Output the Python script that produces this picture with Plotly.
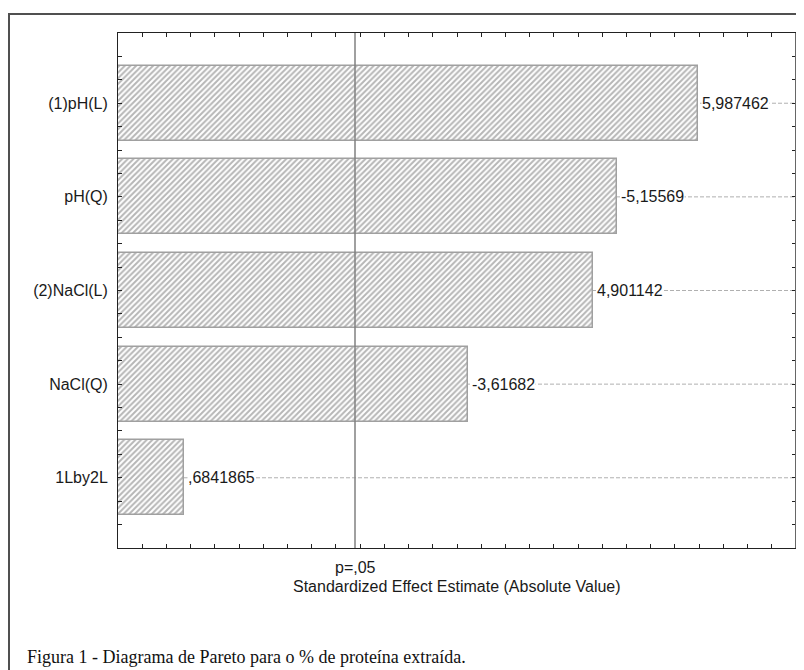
import plotly.graph_objects as go

# ---- data ----
factors = ["(1)pH(L)", "pH(Q)", "(2)NaCl(L)", "NaCl(Q)", "1Lby2L"]
effects = [5.987462, -5.15569, 4.901142, -3.61682, 0.6841865]   # signed standardized effects
p_critical = 2.446912           # t critical value for p = .05
p_label = "p=,05"
x_title = "Standardized Effect Estimate (Absolute Value)"
caption = "Figura 1 - Diagrama de Pareto para o % de proteína extraída."

abs_eff = [abs(v) for v in effects]
idx = list(range(len(factors)))


def fmt(v):
    s = "%.7g" % v
    if s.startswith("0."):
        s = s[1:]
    elif s.startswith("-0."):
        s = "-" + s[2:]
    return s.replace(".", ",")


value_text = [fmt(v) for v in effects]

# ---- geometry (pixels, figure sits 8px into the page because of body margin) ----
OFF = 8
W, H = 804 - OFF, 670 - OFF
L, T = 118 - OFF, 33 - OFF
R = W - (796 - OFF)
B = H - (548 - OFF)
pw, ph = W - L - R, H - T - B

FONT = "Liberation Sans, Arial, sans-serif"

# y ticks every quarter category, label only at category centres
ymin, ymax = -0.75, len(factors) - 1 + 0.75
n_q = int(round((ymax - ymin) / 0.25))
ytickvals = [ymin + 0.25 * k for k in range(n_q + 1)]
yticktext = []
for v in ytickvals:
    if abs(v - round(v)) < 1e-9 and 0 <= round(v) < len(factors):
        yticktext.append(factors[int(round(v))])
    else:
        yticktext.append("")

fig = go.Figure()
fig.add_trace(go.Bar(
    x=abs_eff, y=idx, orientation="h", width=0.8,
    marker=dict(color="white",
                line=dict(color="#a0a0a0", width=1.5),
                pattern=dict(shape="/", fgcolor="#6e6e6e", bgcolor="white",
                             size=4, solidity=0.5)),
    hoverinfo="skip", showlegend=False,
))

shapes = []
# dashed reference lines at each bar
for i in idx:
    shapes.append(dict(type="line", xref="x", yref="y", x0=0, x1=7, y0=i, y1=i,
                       line=dict(color="#b0b0b0", width=1, dash="4px,2px"), layer="below"))
# p = .05 line
shapes.append(dict(type="line", xref="x", yref="y domain", x0=p_critical, x1=p_critical,
                   y0=0, y1=1, line=dict(color="#808080", width=1.5), layer="above"))
# right spine (thicker, grey)
shapes.append(dict(type="line", xref="paper", yref="paper", x0=1, x1=1, y0=0, y1=1,
                   line=dict(color="#666666", width=2), layer="above"))
# outer figure frame
shapes.append(dict(type="rect", xref="paper", yref="paper",
                   x0=(9 - OFF - L) / pw, x1=(812 - OFF - L) / pw,
                   y0=-(H + 10 - T - ph) / ph, y1=1 + (T - (14 - OFF)) / ph,
                   line=dict(color="#505050", width=2), fillcolor="rgba(0,0,0,0)",
                   layer="above"))

annotations = []
for i in idx:
    annotations.append(dict(x=abs_eff[i], y=i, xref="x", yref="y", text=value_text[i],
                            xanchor="left", yanchor="middle", xshift=3, showarrow=False,
                            bgcolor="white", borderpad=0,
                            font=dict(family=FONT, size=16, color="#1a1a1a")))
annotations.append(dict(x=p_critical, y=0, xref="x", yref="paper", text=p_label,
                        xanchor="center", yanchor="middle", yshift=-19, showarrow=False,
                        font=dict(family=FONT, size=16, color="#1a1a1a")))
annotations.append(dict(x=0.5, y=0, xref="paper", yref="paper", text=x_title,
                        xanchor="center", yanchor="middle", yshift=-38, showarrow=False,
                        font=dict(family=FONT, size=16, color="#1a1a1a")))
annotations.append(dict(x=(25 - OFF - L) / pw, y=0, xref="paper", yref="paper", text=caption,
                        xanchor="left", yanchor="middle", yshift=-(657 - 548),
                        showarrow=False,
                        font=dict(family="Liberation Serif, Times New Roman, serif",
                                  size=18, color="#111111")))

fig.update_layout(
    width=W, height=H, autosize=False,
    margin=dict(l=L, r=R, t=T, b=B, pad=0),
    paper_bgcolor="white", plot_bgcolor="white",
    shapes=shapes, annotations=annotations,
    bargap=0,
    xaxis=dict(range=[0, 7], tickmode="linear", tick0=0, dtick=0.25,
               showticklabels=False, ticks="inside", ticklen=4, tickcolor="#222",
               showgrid=False, zeroline=False, showline=True, linecolor="#222",
               linewidth=1, mirror="ticks"),
    yaxis=dict(range=[ymax, ymin], tickmode="array", tickvals=ytickvals,
               ticktext=yticktext, ticks="inside", ticklen=4, tickcolor="#222",
               showgrid=False, zeroline=False, showline=True, linecolor="#222",
               linewidth=1, mirror="ticks", ticklabelstandoff=6,
               tickfont=dict(family=FONT, size=16, color="#1a1a1a")),
)

fig.write_html("out.html")
